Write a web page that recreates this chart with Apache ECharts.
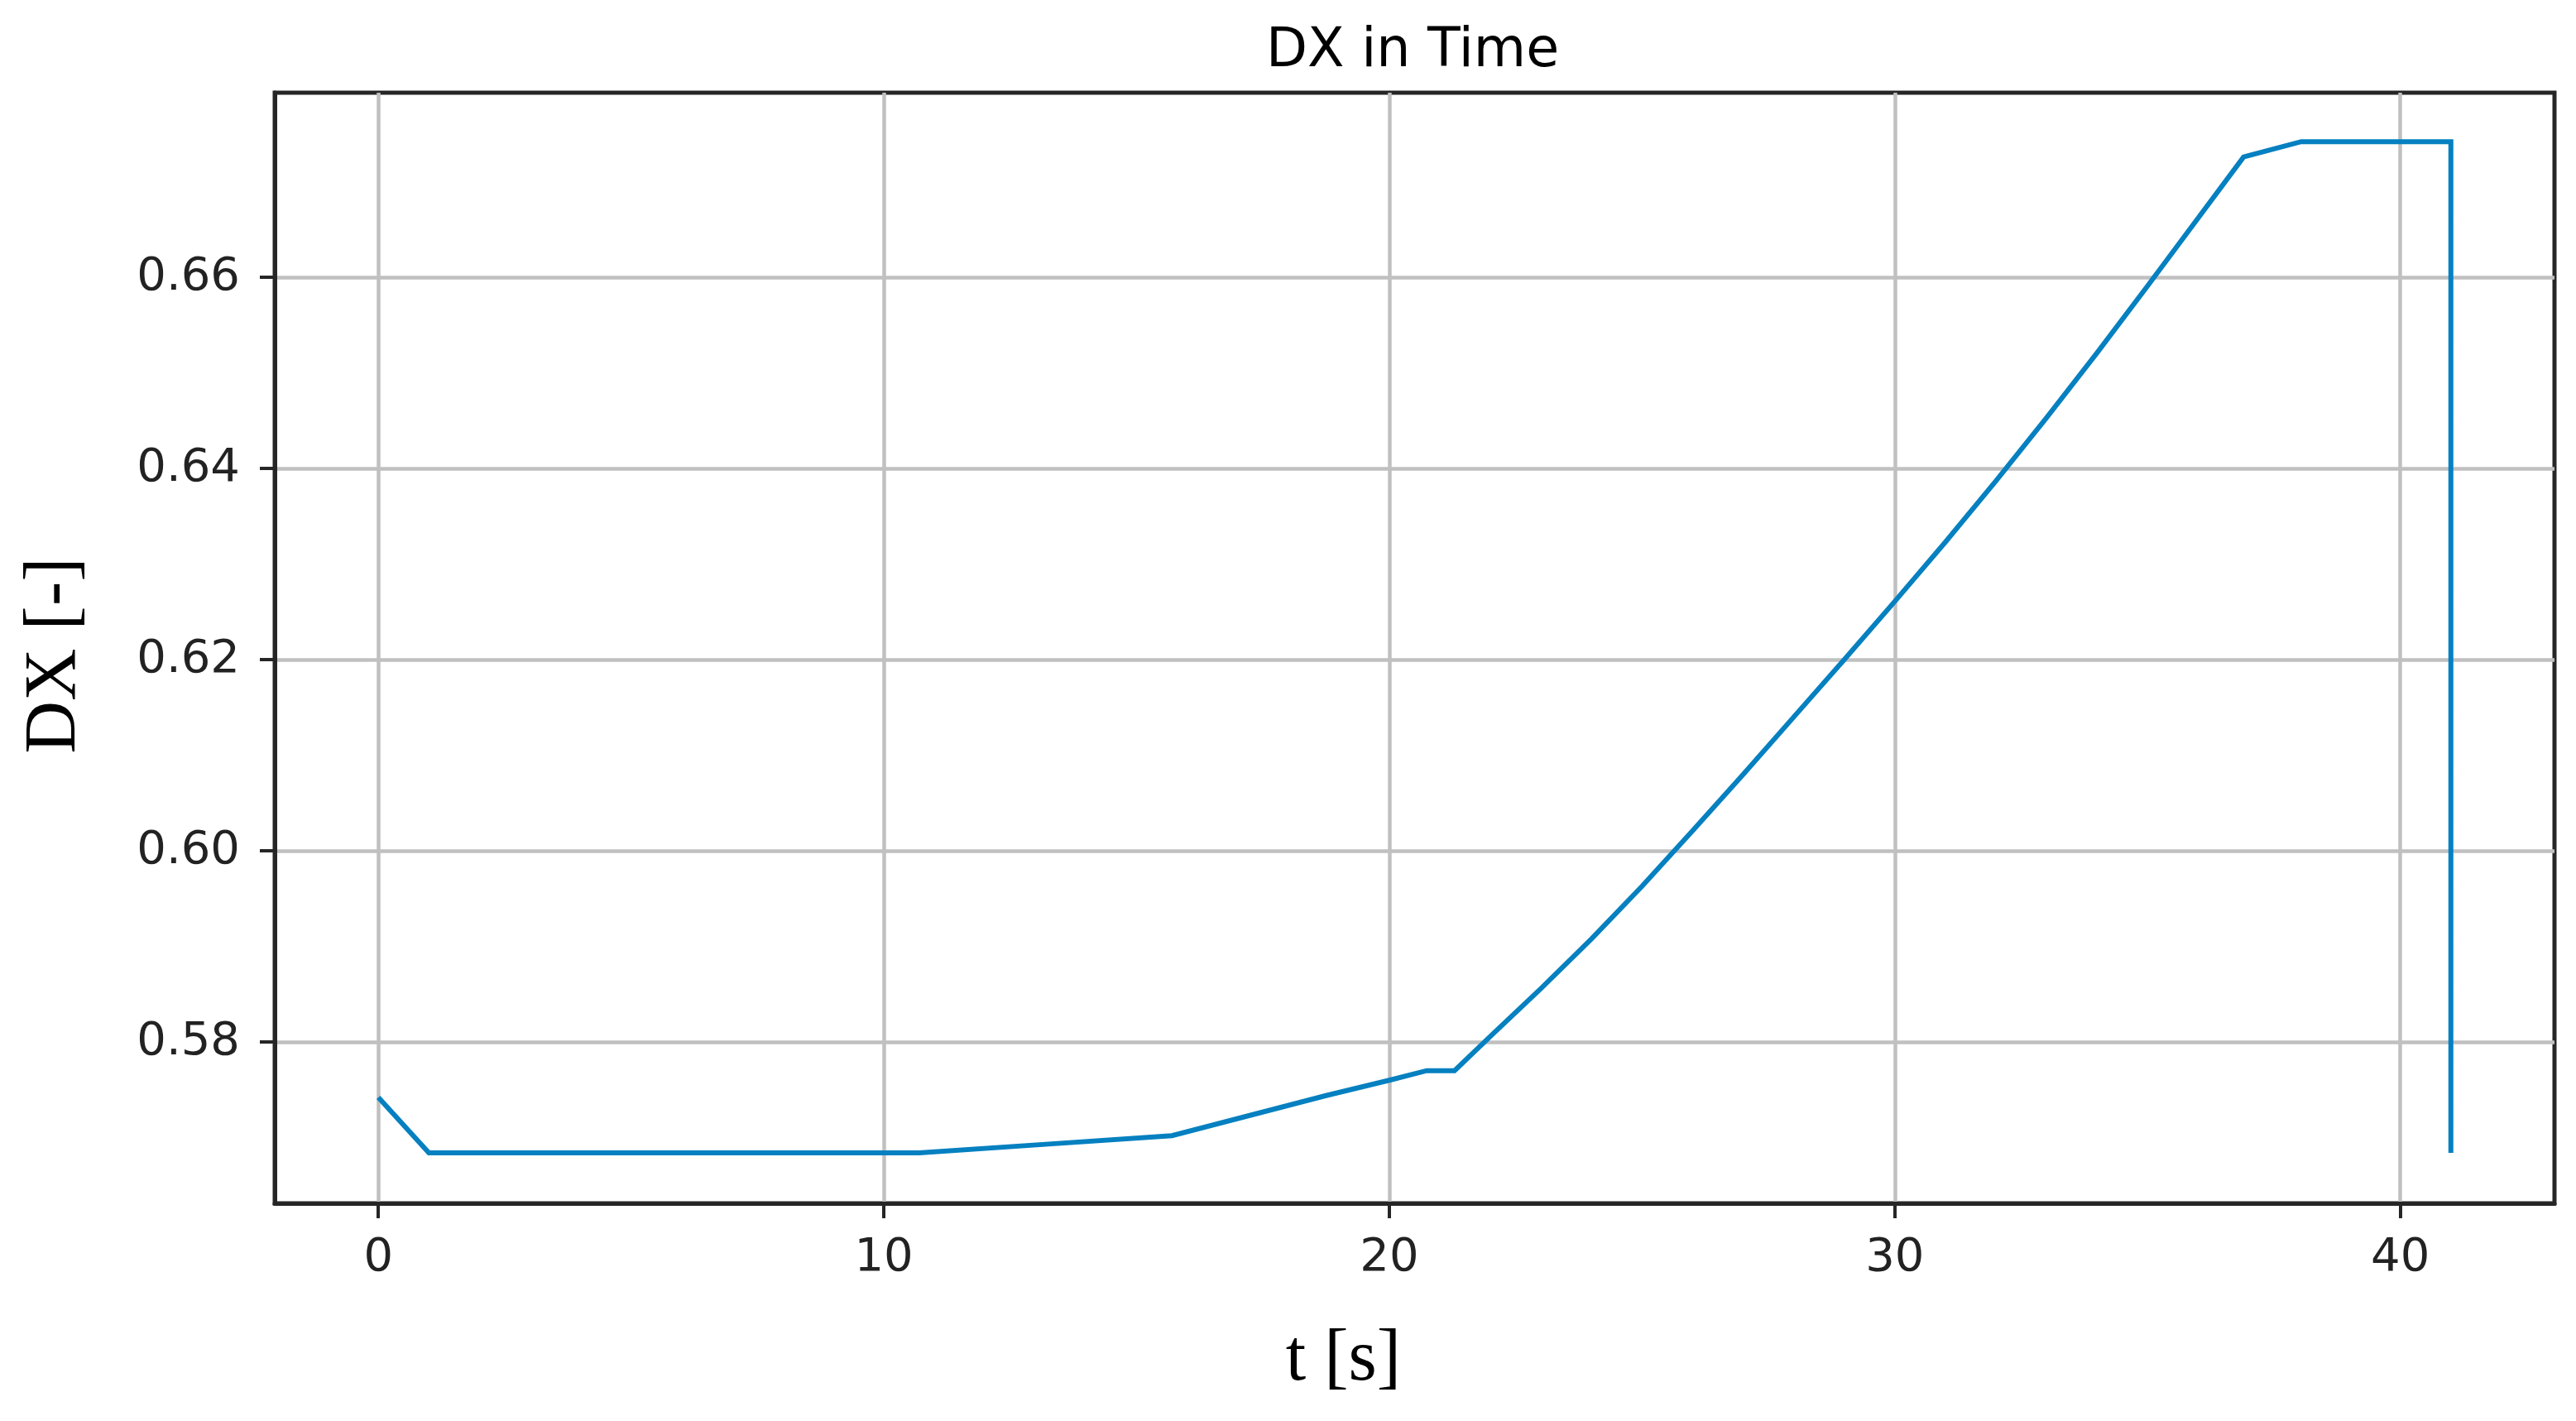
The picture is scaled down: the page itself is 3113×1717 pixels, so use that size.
<!DOCTYPE html>
<html>
<head>
<meta charset="utf-8">
<script src="https://cdn.jsdelivr.net/npm/echarts@6/dist/echarts.min.js"></script>
<style>
  html, body { margin: 0; padding: 0; background: #ffffff; }
  #chart { width: 3113px; height: 1717px; }
</style>
</head>
<body>
<div id="chart"></div>
<script>
// ---- data ----
const timeValues = [0, 1.0, 10.7, 13.2, 15.7, 18.75, 20.0, 20.74, 21.29, 22, 23, 24, 25, 26, 27, 28, 29, 30, 31, 32, 33, 34, 35, 36, 36.9, 38.04, 41.0, 41.0];
const dxValues   = [0.5742, 0.5684, 0.5684, 0.5693, 0.5702, 0.5744, 0.5760, 0.5770, 0.5770, 0.5806, 0.5856, 0.5908, 0.5963, 0.6021, 0.6080, 0.6140, 0.6200, 0.6261, 0.6323, 0.6387, 0.6453, 0.6521, 0.6591, 0.6662, 0.6726, 0.6742, 0.6742, 0.5684];
const xTicks = [0, 10, 20, 30, 40];
const yTicks = [0.58, 0.60, 0.62, 0.64, 0.66];
const xRange = [-2.05, 43.05];
const yRange = [0.56312, 0.67932];
const titleText = 'DX in Time';
const xName = 't [s]';
const yName = 'DX [-]';

const seriesData = timeValues.map((t, i) => [t, dxValues[i]]);

const chart = echarts.init(document.getElementById('chart'), null, { renderer: 'canvas' });
const tickFont = 'DejaVu Sans';
const nameFont = 'Liberation Serif';

chart.setOption({
  animation: false,
  backgroundColor: '#ffffff',
  title: {
    text: titleText,
    left: 1702,
    top: 26,
    textAlign: 'center',
    textStyle: { fontFamily: tickFont, fontSize: 65, fontWeight: 'normal', color: '#000000' }
  },
  grid: {
    left: 332, right: 26, top: 112, bottom: 263,
    show: true, borderColor: '#262626', borderWidth: 5, backgroundColor: 'transparent'
  },
  xAxis: {
    type: 'value',
    min: xRange[0], max: xRange[1],
    name: xName,
    nameLocation: 'middle',
    nameGap: 146,
    nameTextStyle: { fontFamily: nameFont, fontSize: 88, color: '#000000', padding: [0, 172, 0, 0] },
    axisLine: { show: true, onZero: false, lineStyle: { color: '#262626', width: 5 } },
    axisTick: { show: true, inside: false, length: 18, customValues: xTicks, lineStyle: { color: '#262626', width: 4 } },
    axisLabel: { show: true, margin: 38, customValues: xTicks, fontFamily: tickFont, fontSize: 56, color: '#222222',
                 formatter: v => String(Math.round(v)) },
    splitLine: { show: true, lineStyle: { color: '#c0c0c0', width: 4.5 } }
  },
  yAxis: {
    type: 'value',
    min: yRange[0], max: yRange[1],
    name: yName,
    nameLocation: 'middle',
    nameGap: 221,
    nameRotate: 90,
    nameTextStyle: { fontFamily: nameFont, fontSize: 88, color: '#000000', padding: [0, 18, 0, 0] },
    axisLine: { show: true, onZero: false, lineStyle: { color: '#262626', width: 5 } },
    axisTick: { show: true, inside: false, length: 18, customValues: yTicks, lineStyle: { color: '#262626', width: 4 } },
    axisLabel: { show: true, margin: 42, customValues: yTicks, fontFamily: tickFont, fontSize: 56, color: '#222222',
                 formatter: v => Number(v).toFixed(2) },
    splitLine: { show: true, lineStyle: { color: '#c0c0c0', width: 4.5 } }
  },
  series: [{
    type: 'line',
    data: seriesData,
    showSymbol: false,
    symbol: 'none',
    smooth: false,
    lineStyle: { color: '#0580c0', width: 6, join: 'miter' },
    itemStyle: { color: '#0580c0' },
    z: 5
  }]
});
</script>
</body>
</html>
